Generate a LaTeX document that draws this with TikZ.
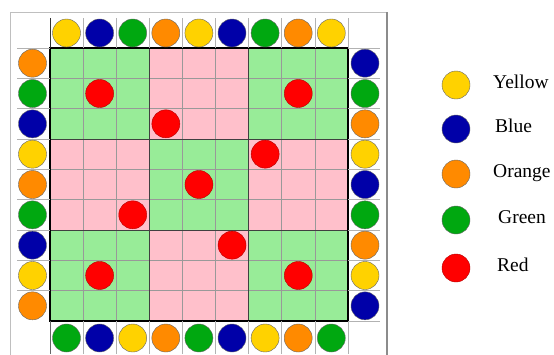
\documentclass[tikz,border=0pt]{standalone}
\usepackage{fontspec}
\setmainfont{Liberation Serif}
\usetikzlibrary{positioning}
\definecolor{cYel}{HTML}{FFD200}
\definecolor{cBlu}{HTML}{0000A8}
\definecolor{cGrn}{HTML}{00A810}
\definecolor{cOrg}{HTML}{FF8A00}
\definecolor{cRed}{HTML}{FF0000}
\definecolor{cLeaf}{HTML}{98EC98}
\definecolor{cRose}{HTML}{FFC0CB}
\tikzset{
  ball/.style    = {circle, draw=black!60, line width=0.4pt,
                    minimum size=28pt, inner sep=0pt},
  redball/.style = {ball, fill=cRed, draw=cRed!70!black},
  cell/.style    = {draw=black!40, line width=0.6pt},
  block/.style   = {draw=black!75, line width=1pt},
  border/.style  = {draw=black, line width=1.3pt},
  strip/.style   = {draw=black!30, line width=0.6pt},
  frame/.style   = {draw=black!25, line width=0.6pt},
  keytext/.style = {font=\fontsize{19.5}{22}\selectfont, inner sep=0pt,
                    text height=0.69em, text depth=0pt, anchor=west},
}

\begin{document}
\begin{tikzpicture}[x=1pt, y=-1pt]
  \useasboundingbox (0,0) rectangle (554,354);
  \fill[white] (0,0) rectangle (554,354);
  % outer frame
  \draw[frame] (10,356) -- (10,12) -- (387,12);
  \draw[draw=black!45, line width=1.2pt] (387,12) -- (387,356);
  % 3x3 blocks
  \foreach \bi in {0,1,2}
    \foreach \bj in {0,1,2} {
      \pgfmathtruncatemacro{\parity}{mod(\bi+\bj,2)}
      \ifnum\parity=0 \def\bc{cLeaf}\else\def\bc{cRose}\fi
      \fill[\bc] ({50+99.3*\bi},{48+91*\bj}) rectangle ++(99.3,91);
    }
  % cell lines
  \foreach \k in {1,...,8} {
    \draw[cell] ({50+33.1*\k},48) -- ({50+33.1*\k},321);
    \draw[cell] (50,{48+30.33*\k}) -- (348,{48+30.33*\k});
  }
  \foreach \k in {1,2} {
    \draw[block] ({50+99.3*\k},48) -- ({50+99.3*\k},321);
    \draw[block] (50,{48+91*\k}) -- (348,{48+91*\k});
  }
  \draw[border] (50,48) rectangle (348,321);
  % edge strips
  \foreach \k in {1,...,9} {
    \draw[strip] ({50+33.1*\k},18) -- ({50+33.1*\k},48);
    \draw[strip] ({50+33.1*\k},321) -- ({50+33.1*\k},354);
  }
  \draw[draw=black!80, line width=0.8pt] (50,18) -- (50,48);
  \draw[draw=black!60, line width=0.6pt] (50,321) -- (50,354);
  \foreach \k in {0,...,8} {
    \draw[strip] (17,{48+30.33*\k}) -- (50,{48+30.33*\k});
    \draw[strip] (348,{48+30.33*(\k+1)}) -- (380,{48+30.33*(\k+1)});
  }
  \draw[strip] (348,48) -- (380,48);
  % edge balls
  \foreach \c [count=\i from 0] in {cYel,cBlu,cGrn,cOrg,cYel,cBlu,cGrn,cOrg,cYel}
    \node[ball, fill=\c] (top\i) at ({66.5+33.1*\i},33) {};
  \foreach \c [count=\i from 0] in {cGrn,cBlu,cYel,cOrg,cGrn,cBlu,cYel,cOrg,cGrn}
    \node[ball, fill=\c] (bot\i) at ({66.5+33.1*\i},338) {};
  \foreach \c [count=\i from 0] in {cOrg,cGrn,cBlu,cYel,cOrg,cGrn,cBlu,cYel,cOrg}
    \node[ball, fill=\c] (lft\i) at (32.5,{63.2+30.33*\i}) {};
  \foreach \c [count=\i from 0] in {cBlu,cGrn,cOrg,cYel,cBlu,cGrn,cOrg,cYel,cBlu}
    \node[ball, fill=\c] (rgt\i) at (365,{63.2+30.33*\i}) {};
  % red balls
  \foreach \col/\row [count=\k] in {1/1,7/1,3/2,6/3,4/4,2/5,5/6,1/7,7/7}
    \node[redball] (red\k) at ({50+33.1*(\col+0.5)},{48+30.33*(\row+0.5)}) {};
  % legend
  \node[ball, fill=cYel] (kYel) at (456,85)  {};
  \node[ball, fill=cBlu] (kBlu) at (456,129) {};
  \node[ball, fill=cOrg] (kOrg) at (456,174) {};
  \node[ball, fill=cGrn] (kGrn) at (456,220) {};
  \node[redball]         (kRed) at (456,268) {};
  \node[keytext, right=37pt of kYel.center] (tYel) {Yellow};
  \node[keytext, right=39pt of kBlu.center] (tBlu) {Blue};
  \node[keytext, right=37pt of kOrg.center] (tOrg) {Orange};
  \node[keytext, right=42pt of kGrn.center] (tGrn) {Green};
  \node[keytext, right=41pt of kRed.center] (tRed) {Red};
\end{tikzpicture}
\end{document}
